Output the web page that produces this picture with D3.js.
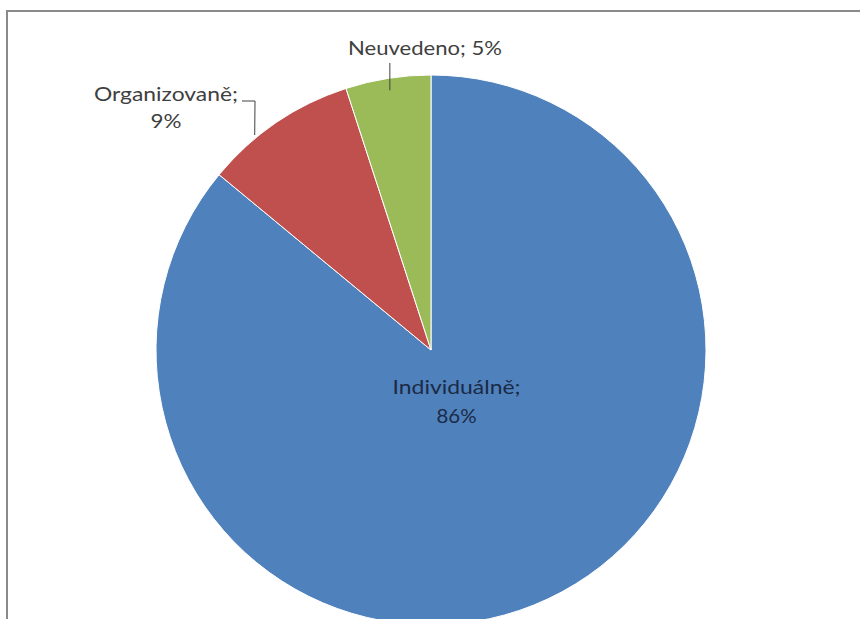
<!DOCTYPE html>
<html><head><meta charset="utf-8">
<script src="https://cdn.jsdelivr.net/npm/d3@7"></script>
<style>html,body{margin:0;padding:0;background:#fff;}svg{display:block;}</style>
</head><body>
<svg id="c" width="860" height="619"></svg>
<script>
const categories = ["Individuálně", "Organizovaně", "Neuvedeno"];
const values = [86, 9, 5];
const labels = ["86%", "9%", "5%"];
const colors = ["#4f81bd", "#c0504d", "#9bbb59"];

const svg = d3.select("#c");
const W = 860, H = 619;
svg.append("rect").attr("x", 0).attr("y", 0).attr("width", W).attr("height", H).attr("fill", "#fff");
// chart border
svg.append("rect").attr("x", 7).attr("y", 11).attr("width", 880).attr("height", 650)
  .attr("fill", "none").attr("stroke", "#8a8a8a").attr("stroke-width", 2);

const cx = 431, cy = 350, r = 275;
const data = categories.map((c, i) => ({ cat: c, v: values[i], lab: labels[i], col: colors[i] }));
const pie = d3.pie().value(d => d.v).sort(null);
const arcs = pie(data);
const arc = d3.arc().innerRadius(0).outerRadius(r);
const g = svg.append("g").attr("transform", `translate(${cx},${cy})`);
g.selectAll("path").data(arcs).enter().append("path")
  .attr("d", arc).attr("fill", d => d.data.col)
  .attr("stroke", "#fff").attr("stroke-width", 1);

const font = "Lato, 'Open Sans', sans-serif";
const fs = 19;
function label(x, y, txt, w, color) {
  svg.append("text").attr("text-anchor", "middle").attr("font-family", font)
    .attr("font-size", fs).attr("fill", color)
    .attr("x", x).attr("y", y)
    .attr("textLength", w).attr("lengthAdjust", "spacingAndGlyphs")
    .text(txt);
}
// Center label for big slice (placed along its mid-angle)
const a0 = arcs[0];
const c0 = d3.pointRadial((a0.startAngle + a0.endAngle) / 2, 60);
label(cx + c0[0], 394, a0.data.cat + ";", 128, "#1b2a45");
label(cx + c0[0], 423, a0.data.lab, 40, "#1b2a45");

// Organizovaně label
const a1 = arcs[1];
label(166, 101, a1.data.cat + ";", 144, "#404040");
label(166, 128, a1.data.lab, 31, "#404040");
const p1 = d3.pointRadial((a1.startAngle + a1.endAngle) / 2 - 0.09, r + 3);
svg.append("polyline")
  .attr("points", `242,101 255,101 ${cx + p1[0]},${cy + p1[1]}`)
  .attr("fill", "none").attr("stroke", "#404040").attr("stroke-width", 1);

// Neuvedeno label
const a2 = arcs[2];
label(425, 55, a2.data.cat + "; " + a2.data.lab, 154, "#404040");
const p2 = d3.pointRadial((a2.startAngle + a2.endAngle) / 2, r - 12);
svg.append("line").attr("x1", cx + p2[0]).attr("y1", 63).attr("x2", cx + p2[0]).attr("y2", cy + p2[1])
  .attr("stroke", "#404040").attr("stroke-width", 1);
</script>
</body></html>
